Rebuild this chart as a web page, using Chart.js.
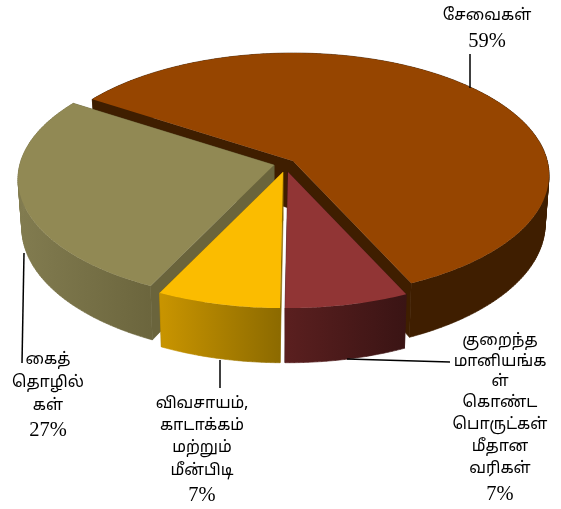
<!DOCTYPE html>
<html><head><meta charset="utf-8">
<style>html,body{margin:0;padding:0;background:#fff}#w{width:561px;height:509px;position:relative}</style>
<script src="https://cdn.jsdelivr.net/npm/chart.js@4"></script>
</head><body><div id="w"><canvas id="c"></canvas></div>
<script>
const categories = ["சேவைகள்","குறைந்த மானியங்கள் கொண்ட பொருட்கள் மீதான வரிகள்","விவசாயம், காடாக்கம் மற்றும் மீன்பிடி","கைத்தொழில்கள்"];
const values = [59,7,7,27];
const labelLines = [["சேவைகள்"],["குறைந்த","மானியங்க","ள்","கொண்ட","பொருட்கள்","மீதான","வரிகள்"],["விவசாயம்,","காடாக்கம்","மற்றும்","மீன்பிடி"],["கைத்","தொழில்","கள்"]];
const topColors = ["#964500","#913535","#FBBC00","#918954"];
const wallFrom = ["#3F1E00","#5A1F1F","#C89400","#827C50"];
const wallTo = ["#3F1E00","#3A1414","#8C6A00","#6A643C"];
const cutColors = ["#3F1E00","#3A1414","#8C6A00","#6A643C"];
const wallRange = [[17,548],[287,406],[162,281],[17,160]];
const apexes = [[293,161],[288,172],[283,172],[274,165]];
const drawOrder = [0,3,2,1];
const labelPos = [
 {x:487,ys:[17],py:42},
 {x:500,ys:[342,363,383,404,426,448,470],py:495},
 {x:202,ys:[405,427,449,472],py:496},
 {x:48,ys:[361,384,407],py:431}];
const leaders = [[[470,54],[470,88]],[[347,359],[450,362]],[[220,360],[220,388]],[[24,253],[22,363]]];

const Q=0.115, GR=120.4, FR=254.3, D0=48.4, BASE_X=0.985;
function project(arc,i,angle,depth){
  // angle is Chart.js canvas angle; perspective projection of the pie plane
  const u=Math.cos(angle), s=Math.sin(angle), w=1/(1-Q*s);
  return [apexes[i][0]+FR*u*w*(depth?BASE_X:1), apexes[i][1]+GR*s*w+(depth?D0*w:0)];
}
function apexAt(i,depth){return [apexes[i][0],apexes[i][1]+(depth?D0:0)];}
function arcPts(arc,i,depth){
  const p=arc.getProps(['startAngle','endAngle']), n=Math.ceil((p.endAngle-p.startAngle)*60), r=[];
  for(let k=0;k<=n;k++) r.push(project(arc,i,p.startAngle+(p.endAngle-p.startAngle)*k/n,depth));
  return r;
}
function trace(ctx,pts){pts.forEach((q,k)=>k?ctx.lineTo(q[0],q[1]):ctx.moveTo(q[0],q[1]));ctx.closePath();}
function paint(ctx,polys,fill,edge){
  ctx.beginPath();polys.forEach(p=>trace(ctx,p));
  ctx.fillStyle=fill;ctx.fill();
  if(edge){ctx.strokeStyle=fill;ctx.lineWidth=0.6;ctx.stroke();}
}
const pie3d={id:'pie3d',
 beforeDatasetsDraw(chart){
  const ctx=chart.ctx, arcs=chart.getDatasetMeta(0).data;
  ctx.save();
  drawOrder.forEach(i=>{
    const arc=arcs[i], top=arcPts(arc,i,false), bot=arcPts(arc,i,true);
    const a=apexAt(i,false), b=apexAt(i,true);
    paint(ctx,[[a,top[0],bot[0],b],[a,top[top.length-1],bot[bot.length-1],b]],cutColors[i],true);
    const g=ctx.createLinearGradient(wallRange[i][0],0,wallRange[i][1],0);
    g.addColorStop(0,wallFrom[i]);g.addColorStop(1,wallTo[i]);
    const quads=[];
    for(let k=0;k<top.length-1;k++) quads.push([top[k],top[k+1],bot[k+1],bot[k]]);
    paint(ctx,quads,g,true);
    paint(ctx,[[a].concat(top)],topColors[i],false);
  });
  ctx.restore();
  return false;
 },
 afterDraw(chart){
  const ctx=chart.ctx;
  ctx.save();
  ctx.strokeStyle='#000';ctx.lineWidth=1.5;
  leaders.forEach(l=>{ctx.beginPath();l.forEach((q,k)=>k?ctx.lineTo(q[0],q[1]):ctx.moveTo(q[0],q[1]));ctx.stroke();});
  ctx.fillStyle='#000';ctx.textAlign='center';ctx.textBaseline='middle';
  labelLines.forEach((lines,i)=>{
    ctx.font='16px "Noto Sans Tamil","Lohit Tamil","Latha","Noto Sans","DejaVu Sans",sans-serif';
    lines.forEach((t,k)=>ctx.fillText(t,labelPos[i].x,labelPos[i].ys[k]));
    ctx.font='20.5px "Liberation Serif",serif';
    ctx.fillText(values[i]+'%',labelPos[i].x,labelPos[i].py);
  });
  ctx.restore();
 }};
new Chart(document.getElementById('c'),{
 type:'pie',
 data:{labels:categories,datasets:[{data:values,backgroundColor:topColors,borderWidth:0}]},
 options:{responsive:true,maintainAspectRatio:false,animation:false,rotation:-57,
  layout:{padding:0},plugins:{legend:{display:false},tooltip:{enabled:false}}},
 plugins:[pie3d]});
</script></body></html>
